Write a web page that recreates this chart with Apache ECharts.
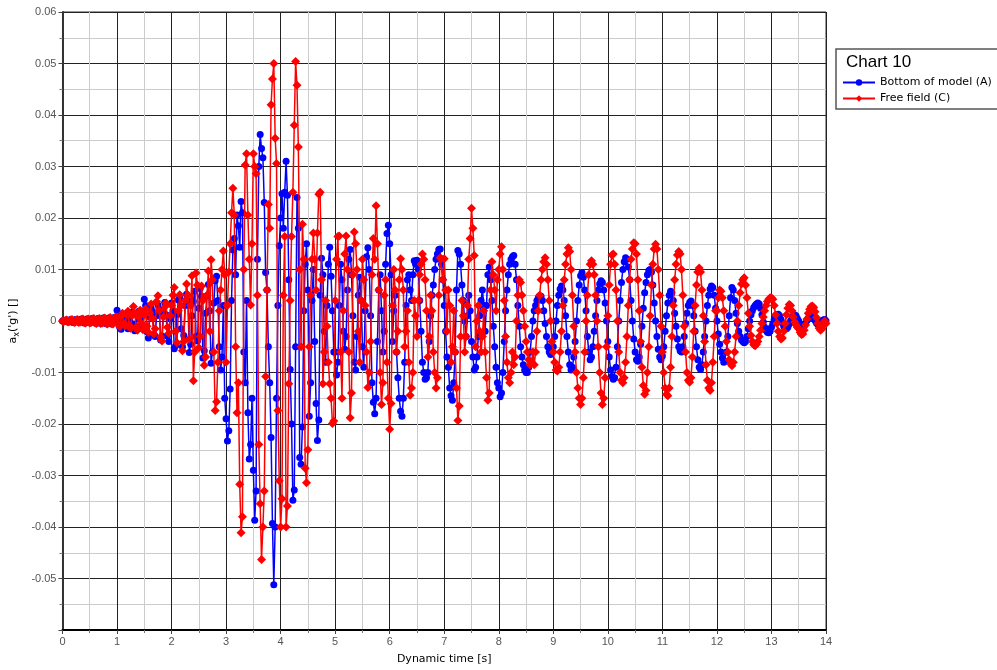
<!DOCTYPE html>
<html><head><meta charset="utf-8">
<script src="https://cdn.jsdelivr.net/npm/echarts@6/dist/echarts.min.js"></script>
<style>html,body{margin:0;padding:0;background:#fff}#c{width:997px;height:670px}</style>
</head><body><div id="c"></div>
<script>
const chartTitle = 'Chart 10';
const seriesNames = ['Bottom of model (A)', 'Free field (C)'];
const xTitle = 'Dynamic time [s]';
const yTitle = "a{sub|x}('g') []";
const timeStart = 0;
const timeStep = 0.025;

// Bottom of model (A), one value every 0.025 s, t = 0 .. 14 (10 values per line)
const bottomA = [
 0, 0.0001, -0.0001, 0.0002, -0.0002, 0.0001, 0.0003, -0.0002, -0.0003, 0.0002,
 0.0003, -0.0001, -0.0003, 0.0002, 0.0004, -0.0002, -0.0004, 0.0003, 0.0004, -0.0003,
 -0.0003, 0.0004, 0.0005, -0.0002, -0.0004, 0.0003, 0.0005, -0.0003, -0.0005, 0.0004,
 0.0006, -0.0004, -0.0005, 0.0005, 0.0006, -0.0004, -0.0006, 0.0005, 0.0007, 0.0002,
 0.0021, 0.0010, -0.0012, -0.0016, 0.0004, 0.0013, 0.0009, -0.0008, -0.0015, 0.0002,
 0.0014, 0.0017, -0.0006, -0.0019, -0.0010, 0.0012, 0.0019, 0.0005, -0.0014, -0.0008,
 0.0042, 0.0030, -0.0021, -0.0033, 0.0008, 0.0025, 0.0018, -0.0026, -0.0030, 0.0010,
 0.0031, 0.0022, -0.0037, -0.0029, 0.0015, 0.0036, 0.0012, -0.0029, -0.0040, 0.0005,
 0.0035, 0.0020, -0.0054, -0.0048, 0.0012, 0.0041, 0.0046, -0.0015, -0.0050, -0.0028,
 0.0030, 0.0052, 0.0040, -0.0061, -0.0045, 0.0010, 0.0038, 0.0058, -0.0030, -0.0039,
 0.0025, 0.0063, 0.0048, -0.0072, -0.0058, 0.0015, 0.0049, 0.0071, 0.0020, -0.0082,
 -0.0060, 0.0035, 0.0078, 0.0087, 0.0040, -0.0050, -0.0095, -0.0070, 0.0030, -0.0150,
 -0.0190, -0.0233, -0.0213, -0.0132, 0.0040, 0.0138, 0.0160, 0.0090, 0.0206, 0.0185,
 0.0143, 0.0232, 0.0210, -0.0060, -0.0120, 0.0040, -0.0178, -0.0268, -0.0240, -0.0150,
 -0.0290, -0.0387, -0.0330, 0.0120, 0.0300, 0.0362, 0.0335, 0.0317, 0.0230, 0.0094,
 0.0060, -0.0050, -0.0120, -0.0226, -0.0393, -0.0512, -0.0400, -0.0150, 0.0030, 0.0146,
 0.0200, 0.0247, 0.0180, 0.0250, 0.0310, 0.0244, 0.0080, -0.0094, -0.0200, -0.0348,
 -0.0328, -0.0050, 0.0240, 0.0180, -0.0265, -0.0278, -0.0206, 0.0020, 0.0110, 0.0150,
 0.0060, -0.0185, -0.0120, 0.0040, 0.0100, -0.0040, -0.0160, -0.0232, -0.0192, 0.0050,
 0.0122, 0.0090, -0.0020, -0.0080, 0.0030, 0.0110, 0.0143, 0.0087, 0.0020, -0.0060,
 -0.0060, -0.0105, -0.0080, 0.0030, 0.0110, 0.0080, -0.0020, -0.0055, -0.0030, 0.0060,
 0.0120, 0.0139, 0.0090, 0.0010, -0.0080, -0.0095, -0.0030, 0.0050, 0.0085, 0.0040,
 -0.0050, -0.0090, 0.0020, 0.0125, 0.0142, 0.0100, 0.0010, -0.0120, -0.0158, -0.0180,
 -0.0150, -0.0040, 0.0060, 0.0090, 0.0020, -0.0060, -0.0020, 0.0110, 0.0170, 0.0186,
 0.0150, 0.0090, -0.0040, 0.0020, 0.0050, -0.0060, -0.0110, -0.0150, -0.0175, -0.0185,
 -0.0150, -0.0080, 0.0030, 0.0080, 0.0090, 0.0060, 0.0040, 0.0090, 0.0117, 0.0110,
 0.0118, 0.0100, 0.0040, -0.0020, -0.0080, -0.0100, -0.0113, -0.0110, -0.0100, -0.0040,
 0.0010, 0.0050, 0.0070, 0.0100, 0.0120, 0.0130, 0.0139, 0.0140, 0.0110, 0.0080,
 0.0030, -0.0020, -0.0070, -0.0090, -0.0130, -0.0145, -0.0154, -0.0120, -0.0060, 0.0060,
 0.0137, 0.0130, 0.0110, 0.0070, 0.0040, 0.0000, -0.0030, 0.0010, 0.0050, 0.0020,
 -0.0040, -0.0070, -0.0095, -0.0090, -0.0070, -0.0030, 0.0010, 0.0040, 0.0060, 0.0030,
 -0.0020, 0.0030, 0.0090, 0.0105, 0.0080, 0.0040, -0.0010, -0.0050, -0.0090, -0.0120,
 -0.0130, -0.0147, -0.0140, -0.0100, -0.0040, 0.0020, 0.0060, 0.0090, 0.0110, 0.0120,
 0.0125, 0.0127, 0.0110, 0.0080, 0.0030, -0.0010, -0.0050, -0.0070, -0.0085, -0.0095,
 -0.0100, -0.0100, -0.0090, -0.0060, -0.0030, 0.0000, 0.0020, 0.0030, 0.0040, 0.0045,
 0.0049, 0.0048, 0.0040, 0.0020, -0.0005, -0.0030, -0.0050, -0.0060, -0.0065, -0.0060,
 -0.0050, -0.0030, 0.0000, 0.0030, 0.0050, 0.0062, 0.0068, 0.0060, 0.0040, 0.0010,
 -0.0030, -0.0060, -0.0085, -0.0095, -0.0090, -0.0070, -0.0040, 0.0000, 0.0040, 0.0070,
 0.0088, 0.0094, 0.0085, 0.0060, 0.0020, -0.0030, -0.0060, -0.0075, -0.0070, -0.0050,
 -0.0020, 0.0010, 0.0040, 0.0060, 0.0072, 0.0078, 0.0075, 0.0060, 0.0035, 0.0000,
 -0.0040, -0.0070, -0.0095, -0.0108, -0.0113, -0.0110, -0.0090, -0.0050, 0.0000, 0.0040,
 0.0075, 0.0100, 0.0115, 0.0123, 0.0120, 0.0105, 0.0080, 0.0040, 0.0000, -0.0035,
 -0.0060, -0.0075, -0.0078, -0.0070, -0.0045, -0.0010, 0.0025, 0.0055, 0.0075, 0.0090,
 0.0098, 0.0100, 0.0095, 0.0070, 0.0035, 0.0000, -0.0030, -0.0055, -0.0070, -0.0075,
 -0.0068, -0.0050, -0.0020, 0.0010, 0.0035, 0.0050, 0.0058, 0.0055, 0.0040, 0.0015,
 -0.0010, -0.0035, -0.0050, -0.0058, -0.0060, -0.0050, -0.0030, -0.0005, 0.0015, 0.0030,
 0.0036, 0.0039, 0.0030, 0.0010, -0.0020, -0.0050, -0.0075, -0.0090, -0.0094, -0.0085,
 -0.0060, -0.0030, 0.0000, 0.0030, 0.0050, 0.0062, 0.0068, 0.0065, 0.0050, 0.0025,
 0.0000, -0.0025, -0.0045, -0.0060, -0.0072, -0.0080, -0.0078, -0.0060, -0.0030, 0.0010,
 0.0045, 0.0065, 0.0060, 0.0040, 0.0015, -0.0005, -0.0020, -0.0030, -0.0037, -0.0040,
 -0.0042, -0.0040, -0.0030, -0.0015, 0.0000, 0.0012, 0.0020, 0.0026, 0.0030, 0.0033,
 0.0035, 0.0033, 0.0025, 0.0012, -0.0002, -0.0012, -0.0018, -0.0022, -0.0023, -0.0020,
 -0.0012, -0.0005, 0.0003, 0.0009, 0.0012, 0.0013, 0.0010, 0.0003, -0.0004, -0.0010,
 -0.0014, -0.0015, -0.0012, -0.0006, 0.0000, 0.0006, 0.0010, 0.0012, 0.0010, 0.0005,
 0.0000, -0.0005, -0.0009, -0.0012, -0.0010, -0.0005, 0.0001, 0.0006, 0.0009, 0.0011,
 0.0010, 0.0006, 0.0001, -0.0004, -0.0007, -0.0006, -0.0003, 0.0000, 0.0002, 0.0003,
 0.0000
];

// Free field (C), one value every 0.025 s, t = 0 .. 14 (10 values per line)
const freeFieldC = [
 0, -0.0001, 0.0001, 0.0002, -0.0002, -0.0001, 0.0002, 0.0003, -0.0002, -0.0003,
 0.0002, 0.0003, -0.0003, -0.0002, 0.0003, 0.0004, -0.0003, -0.0004, 0.0003, 0.0004,
 -0.0004, -0.0003, 0.0004, 0.0005, -0.0004, -0.0005, 0.0004, 0.0005, -0.0005, -0.0004,
 0.0005, 0.0006, -0.0005, -0.0006, 0.0005, 0.0007, -0.0005, -0.0006, 0.0006, 0.0008,
 0.0008, -0.0006, -0.0011, 0.0009, 0.0015, -0.0004, -0.0009, 0.0012, 0.0019, -0.0008,
 -0.0014, 0.0010, 0.0028, 0.0015, -0.0012, -0.0018, 0.0008, 0.0021, -0.0005, -0.0017,
 0.0012, 0.0024, -0.0010, -0.0022, 0.0015, 0.0033, 0.0005, -0.0025, -0.0015, 0.0038,
 0.0049, 0.0020, -0.0031, -0.0039, 0.0008, 0.0027, 0.0035, -0.0012, -0.0024, 0.0010,
 0.0030, 0.0050, 0.0065, -0.0020, -0.0042, 0.0020, 0.0051, 0.0030, -0.0058, -0.0040,
 0.0040, 0.0072, 0.0050, -0.0035, 0.0030, 0.0088, -0.0116, -0.0060, 0.0093, 0.0070,
 -0.0052, -0.0030, 0.0068, 0.0040, -0.0086, -0.0070, 0.0050, 0.0097, -0.0020, 0.0119,
 0.0080, -0.0060, -0.0174, -0.0157, -0.0080, 0.0020, 0.0060, 0.0100, 0.0136, 0.0090,
 -0.0080, 0.0030, 0.0095, 0.0150, 0.0210, 0.0258, 0.0206, -0.0050, -0.0178, -0.0120,
 -0.0317, -0.0411, -0.0380, 0.0100, 0.0303, 0.0325, 0.0206, 0.0120, 0.0031, 0.0150,
 0.0325, 0.0300, 0.0286, 0.0050, -0.0240, -0.0355, -0.0463, -0.0400, -0.0330, -0.0108,
 0.0060, 0.0226, 0.0180, 0.0420, 0.0470, 0.0500, 0.0355, 0.0306, -0.0174, -0.0310,
 -0.0400, -0.0345, 0.0050, 0.0164, -0.0400, -0.0359, -0.0122, 0.0040, 0.0164, 0.0250,
 0.0380, 0.0504, 0.0458, 0.0338, 0.0100, -0.0050, 0.0188, 0.0120, -0.0286, -0.0314,
 -0.0250, -0.0050, 0.0050, 0.0120, 0.0171, 0.0120, 0.0060, 0.0171, 0.0246, 0.0250,
 0.0080, -0.0122, -0.0060, 0.0040, -0.0010, -0.0080, -0.0122, -0.0150, -0.0199, -0.0194,
 0.0040, 0.0120, 0.0164, 0.0165, -0.0060, -0.0150, 0.0020, 0.0130, 0.0165, 0.0100,
 -0.0060, -0.0188, -0.0140, 0.0090, 0.0173, 0.0150, 0.0100, -0.0020, -0.0080, 0.0040,
 0.0120, 0.0080, 0.0030, -0.0060, -0.0129, -0.0100, -0.0040, 0.0090, 0.0160, 0.0120,
 0.0224, 0.0150, 0.0060, -0.0100, -0.0162, -0.0120, 0.0050, 0.0080, -0.0080, -0.0150,
 -0.0210, -0.0160, 0.0030, 0.0100, 0.0060, -0.0060, -0.0020, 0.0080, 0.0121, 0.0100,
 0.0060, -0.0050, -0.0020, 0.0020, -0.0080, -0.0144, -0.0130, -0.0100, 0.0040, 0.0010,
 -0.0030, 0.0040, 0.0090, 0.0110, 0.0130, 0.0120, 0.0080, 0.0020, -0.0070, -0.0030,
 0.0050, 0.0020, -0.0060, -0.0100, -0.0130, -0.0110, 0.0050, 0.0123, 0.0121, 0.0080,
 0.0121, 0.0060, -0.0020, 0.0060, 0.0030, -0.0080, -0.0050, 0.0020, -0.0060, -0.0130,
 -0.0193, -0.0165, -0.0030, 0.0040, 0.0010, -0.0060, -0.0030, 0.0030, 0.0120, 0.0160,
 0.0219, 0.0180, 0.0127, -0.0050, 0.0000, 0.0030, -0.0020, -0.0060, -0.0030, 0.0020,
 -0.0060, -0.0110, -0.0154, -0.0140, 0.0060, 0.0115, 0.0090, 0.0060, 0.0020, 0.0080,
 0.0100, 0.0130, 0.0144, 0.0100, 0.0040, -0.0030, -0.0080, -0.0110, -0.0120, -0.0100,
 -0.0060, -0.0085, -0.0070, 0.0000, 0.0050, 0.0080, 0.0075, 0.0050, 0.0020, -0.0010,
 -0.0040, -0.0060, -0.0075, -0.0085, -0.0080, -0.0060, -0.0085, -0.0060, -0.0020, 0.0020,
 0.0050, 0.0080, 0.0100, 0.0115, 0.0123, 0.0110, 0.0080, 0.0040, 0.0000, -0.0040,
 -0.0060, -0.0080, -0.0095, -0.0097, -0.0090, -0.0060, -0.0020, 0.0030, 0.0080, 0.0110,
 0.0130, 0.0142, 0.0135, 0.0100, 0.0050, -0.0010, -0.0060, -0.0100, -0.0130, -0.0150,
 -0.0162, -0.0150, -0.0110, -0.0060, 0.0000, 0.0050, 0.0090, 0.0110, 0.0117, 0.0110,
 0.0090, 0.0050, 0.0000, -0.0050, -0.0100, -0.0140, -0.0162, -0.0150, -0.0110, -0.0050,
 0.0010, 0.0070, 0.0110, 0.0128, 0.0130, 0.0110, 0.0060, 0.0000, -0.0060, -0.0100,
 -0.0115, -0.0120, -0.0110, -0.0080, -0.0030, 0.0030, 0.0080, 0.0120, 0.0140, 0.0152,
 0.0150, 0.0130, 0.0080, 0.0020, -0.0040, -0.0090, -0.0125, -0.0142, -0.0135, -0.0100,
 -0.0050, 0.0010, 0.0070, 0.0110, 0.0140, 0.0149, 0.0140, 0.0100, 0.0050, -0.0010,
 -0.0060, -0.0100, -0.0130, -0.0142, -0.0145, -0.0130, -0.0090, -0.0030, 0.0030, 0.0080,
 0.0110, 0.0128, 0.0135, 0.0130, 0.0100, 0.0050, -0.0010, -0.0060, -0.0100, -0.0115,
 -0.0119, -0.0110, -0.0070, -0.0020, 0.0030, 0.0070, 0.0095, 0.0103, 0.0095, 0.0060,
 0.0010, -0.0040, -0.0085, -0.0115, -0.0130, -0.0135, -0.0120, -0.0080, -0.0030, 0.0020,
 0.0020, 0.0045, 0.0060, 0.0058, 0.0045, 0.0020, -0.0010, -0.0040, -0.0060, -0.0075,
 -0.0083, -0.0087, -0.0080, -0.0060, -0.0030, 0.0000, 0.0030, 0.0055, 0.0072, 0.0080,
 0.0084, 0.0070, 0.0045, 0.0015, -0.0010, -0.0028, -0.0040, -0.0046, -0.0048, -0.0045,
 -0.0040, -0.0030, -0.0018, -0.0005, 0.0008, 0.0020, 0.0030, 0.0038, 0.0042, 0.0045,
 0.0045, 0.0042, 0.0030, 0.0012, -0.0005, -0.0020, -0.0030, -0.0035, -0.0033, -0.0020,
 -0.0005, 0.0012, 0.0025, 0.0032, 0.0030, 0.0020, 0.0008, -0.0002, -0.0008, -0.0012,
 -0.0015, -0.0022, -0.0026, -0.0025, -0.0018, -0.0008, 0.0004, 0.0015, 0.0023, 0.0028,
 0.0029, 0.0026, 0.0018, 0.0007, -0.0005, -0.0014, -0.0018, -0.0015, -0.0008, 0.0000,
 -0.0005
];

const xMin = 0, xMax = 14, xInterval = 1;
const yMin = -0.06, yMax = 0.06, yInterval = 0.01;

const toPairs = arr => arr.map((v, i) => [+(timeStart + i * timeStep).toFixed(4), v]);

const chart = echarts.init(document.getElementById('c'), null, {renderer: 'canvas'});
const labelFont = 'Liberation Sans';
const textFont = 'DejaVu Sans';

chart.setOption({
  animation: false,
  backgroundColor: '#ffffff',
  grid: {left: 62, right: 171, top: 12, bottom: 40, show: true, borderColor: '#333', borderWidth: 1, backgroundColor: '#fff'},
  xAxis: {
    type: 'value', min: xMin, max: xMax, interval: xInterval,
    name: xTitle, nameLocation: 'middle', nameGap: 24,
    nameTextStyle: {fontFamily: textFont, fontSize: 11, color: '#000'},
    axisLine: {onZero: false, lineStyle: {color: '#000', width: 2}},
    axisTick: {show: true, length: 4, lineStyle: {color: '#444'}},
    minorTick: {show: true, splitNumber: 2, length: 3, lineStyle: {color: '#777'}},
    axisLabel: {fontFamily: labelFont, fontSize: 11, color: '#555', margin: 6},
    splitLine: {show: true, lineStyle: {color: '#222', width: 1}},
    minorSplitLine: {show: true, lineStyle: {color: '#cccccc', width: 1}}
  },
  yAxis: {
    type: 'value', min: yMin, max: yMax, interval: yInterval,
    name: yTitle, nameLocation: 'middle', nameGap: 40, nameRotate: 90,
    nameTextStyle: {fontFamily: textFont, fontSize: 11, color: '#000',
      rich: {sub: {fontFamily: textFont, fontSize: 8, padding: [6, 0, 0, 0], verticalAlign: 'bottom'}}},
    axisLine: {onZero: false, show: true, lineStyle: {color: '#333', width: 2}},
    axisTick: {show: true, length: 4, lineStyle: {color: '#444'}},
    minorTick: {show: true, splitNumber: 2, length: 3, lineStyle: {color: '#777'}},
    axisLabel: {fontFamily: labelFont, fontSize: 11, color: '#555', margin: 6,
      formatter: v => {
        if (Math.abs(v - yMin) < 1e-9) return '';
        if (Math.abs(v) < 1e-9) return '0';
        return v.toFixed(2);
      }},
    splitLine: {show: true, lineStyle: {color: '#222', width: 1}},
    minorSplitLine: {show: true, lineStyle: {color: '#cccccc', width: 1}}
  },
  legend: {
    data: seriesNames, orient: 'vertical', left: 842, top: 77,
    itemWidth: 32, itemHeight: 8, itemGap: 5, padding: 0, selectedMode: false,
    textStyle: {fontFamily: textFont, fontSize: 11, color: '#000'}, z: 10
  },
  graphic: [
    {type: 'rect', z: 5, shape: {x: 836, y: 49, width: 170, height: 60},
     style: {fill: '#fff', stroke: '#555', lineWidth: 1.5}},
    {type: 'text', z: 6, x: 846, y: 54,
     style: {text: chartTitle, font: '17px "Liberation Sans"', fill: '#000'}}
  ],
  series: [
    {name: seriesNames[0], type: 'line', data: toPairs(bottomA),
     symbol: 'circle', symbolSize: 7, showSymbol: true, showAllSymbol: true,
     lineStyle: {color: '#0000ff', width: 1.5}, itemStyle: {color: '#0000ff'}, z: 2},
    {name: seriesNames[1], type: 'line', data: toPairs(freeFieldC),
     symbol: 'diamond', symbolSize: 9, showSymbol: true, showAllSymbol: true,
     lineStyle: {color: '#ff0000', width: 1.5}, itemStyle: {color: '#ff0000'}, z: 3}
  ]
});
</script>
</body></html>
